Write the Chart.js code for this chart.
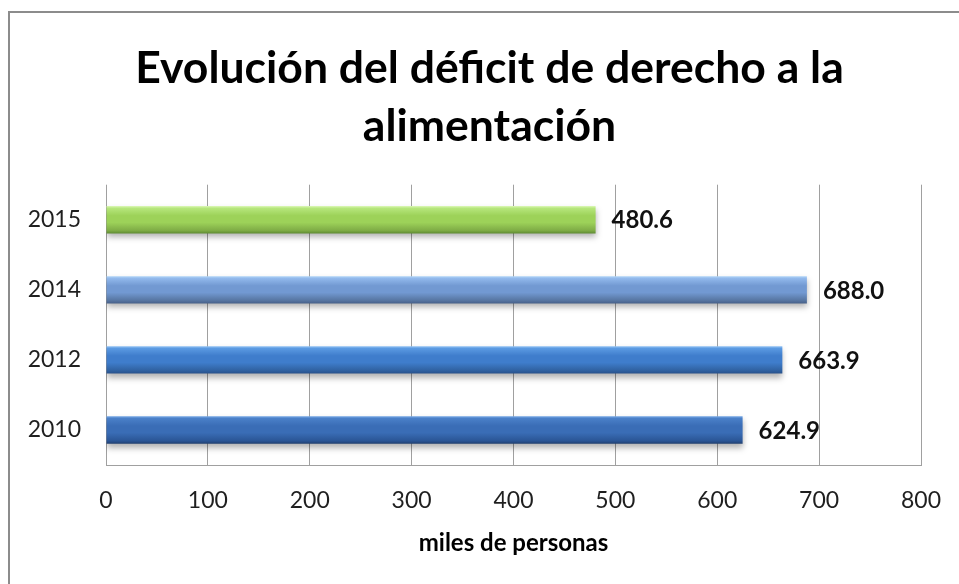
<!DOCTYPE html>
<html>
<head>
<meta charset="utf-8">
<script src="https://cdn.jsdelivr.net/npm/chart.js@4"></script>
<style>
  html, body { margin: 0; padding: 0; background: #fff; }
  #wrap { position: relative; width: 959px; height: 584px; overflow: hidden; }
  #frame { position: absolute; left: 8px; top: 11px; width: 980px; height: 600px; border: 2px solid #8c8c8c; box-sizing: border-box; pointer-events: none; }
  canvas { position: absolute; left: 0; top: 0; }
</style>
</head>
<body>
<div id="wrap">
  <div id="frame"></div>
  <canvas id="chart" width="959" height="584"></canvas>
</div>
<script>
const years = ['2015', '2014', '2012', '2010'];
const personas = [480.6, 688.0, 663.9, 624.9];
const titleLines = ['Evolución del déficit de derecho a la', 'alimentación'];
const axisTitle = 'miles de personas';

// top edge, upper, main, lower, bottom edge for each bar
const barShades = [
	['#dcf8b6', '#b6e67c', '#9dd259', '#7eab45', '#5e8b32'],
	['#b4d8fa', '#92b9ec', '#7299d2', '#56749f', '#465f88'],
	['#94c4f6', '#5b9ae2', '#3f7dcc', '#2f609f', '#27508a'],
	['#76a8e6', '#4a80c8', '#3a6db6', '#2a5595', '#203f70']
];

const barPct = 0.39;
const font = 'Lato, "Open Sans", sans-serif';

function barGradient(ctx) {
	const chart = ctx.chart;
	const shades = barShades[ctx.dataIndex];
	if (!chart.chartArea || ctx.type !== 'data') return shades[2];
	const yScale = chart.scales.y;
	const yc = yScale.getPixelForValue(ctx.dataIndex);
	const half = yScale.height / years.length * barPct / 2;
	const g = chart.ctx.createLinearGradient(0, yc - half, 0, yc + half);
	g.addColorStop(0, shades[0]);
	g.addColorStop(0.08, shades[1]);
	g.addColorStop(0.35, shades[2]);
	g.addColorStop(0.6, shades[2]);
	g.addColorStop(0.9, shades[3]);
	g.addColorStop(1, shades[4]);
	return g;
}

const shadowPlugin = {
	id: 'barShadow',
	afterLayout(chart) {
		// the title is centred a bit right of the canvas middle
		if (chart.titleBlock) chart.titleBlock.left = 58;
	},
	beforeDatasetsDraw(chart) {
		const c = chart.ctx;
		c.save();
		c.shadowColor = 'rgba(0,0,0,0.3)';
		c.shadowBlur = 6;
		c.shadowOffsetY = 4;
	},
	afterDatasetsDraw(chart) {
		chart.ctx.restore();
		const c = chart.ctx;
		const meta = chart.getDatasetMeta(0);
		c.save();
		c.font = 'bold 24px ' + font;
		c.fillStyle = '#111';
		c.textBaseline = 'middle';
		c.textAlign = 'left';
		meta.data.forEach((el, i) => {
			c.fillText(personas[i].toFixed(1), el.x + 16, el.y + 1);
		});
		c.restore();
	}
};

const chart = new Chart(document.getElementById('chart'), {
	type: 'bar',
	data: {
		labels: years,
		datasets: [{
			data: personas,
			backgroundColor: barGradient,
			borderWidth: 0,
			categoryPercentage: 1,
			barPercentage: barPct
		}]
	},
	options: {
		indexAxis: 'y',
		responsive: false,
		animation: false,
		layout: { padding: { left: 0, right: 38, top: 0, bottom: 0 } },
		plugins: {
			legend: { display: false },
			tooltip: { enabled: false },
			title: {
				display: true,
				text: titleLines,
				color: '#000',
				font: { family: font, size: 44.5, weight: 'bold', lineHeight: 1.3 },
				padding: { top: 40, bottom: 29 }
			}
		},
		scales: {
			x: {
				min: 0,
				max: 800,
				ticks: { stepSize: 100, color: '#1f1f1f', padding: 22, font: { family: font, size: 23 } },
				grid: { color: '#a0a0a0', drawTicks: false },
				border: { color: '#a0a0a0' },
				title: {
					display: true,
					text: axisTitle,
					color: '#000',
					font: { family: font, size: 24, weight: 'bold' },
					padding: { bottom: 26 }
				},
				afterFit(scale) {
					scale.height = 119;
					scale.paddingLeft = 0;
					scale.paddingRight = 0;
				}
			},
			y: {
				ticks: { color: '#1f1f1f', padding: 25, font: { family: font, size: 23 } },
				grid: { display: false, drawTicks: false },
				border: { display: false },
				afterFit(scale) { scale.width = 106; }
			}
		}
	},
	plugins: [shadowPlugin]
});
</script>
</body>
</html>
